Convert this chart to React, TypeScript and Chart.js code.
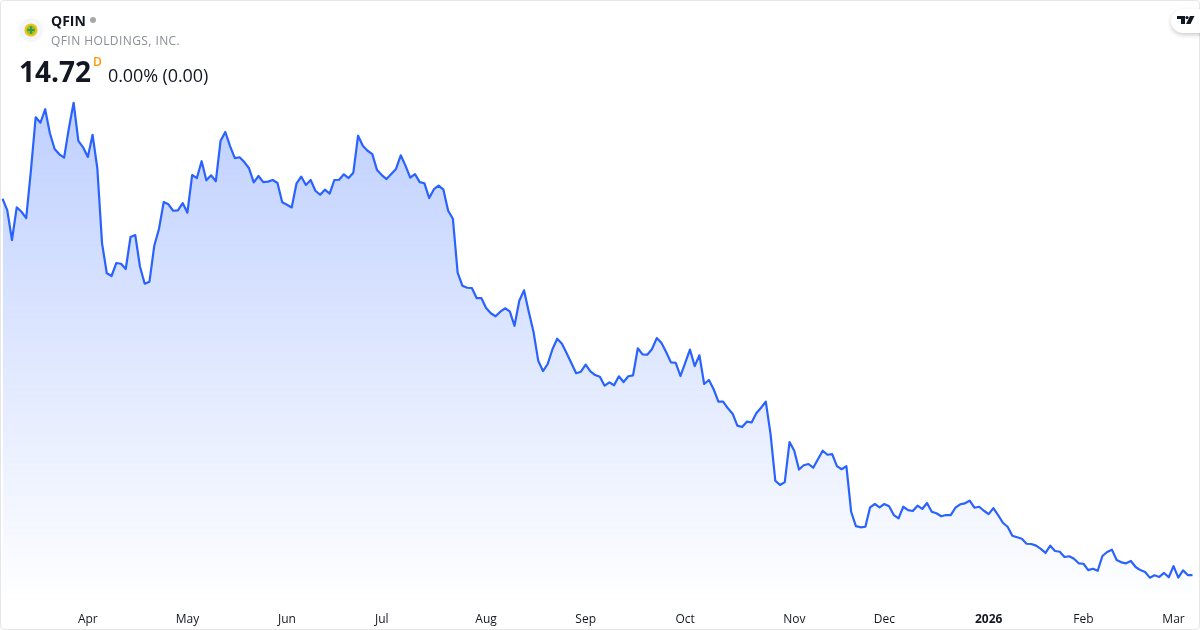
import React, { useEffect, useRef } from "react";
import { Chart, registerables } from "chart.js";

Chart.register(...registerables);

const closes: number[] = [
  42.0, 41.18, 39.01, 41.38, 41.06, 40.6, 44.08, 47.91, 47.51, 48.49,
  46.75, 45.61, 45.22, 44.98, 47.11, 48.96, 46.19, 45.73, 45.03, 46.64,
  44.21, 38.77, 36.6, 36.4, 37.34, 37.29, 36.91, 39.23, 39.37, 37.07,
  35.84, 35.99, 38.57, 39.81, 41.76, 41.6, 41.13, 41.16, 41.69, 40.99,
  43.72, 43.5, 44.72, 43.34, 43.7, 43.27, 46.21, 46.84, 45.82, 44.95,
  45.01, 44.66, 44.21, 43.19, 43.65, 43.21, 43.24, 43.36, 43.14, 41.74,
  41.57, 41.37, 43.09, 43.61, 43.0, 43.36, 42.58, 42.29, 42.66, 42.37,
  43.36, 43.38, 43.77, 43.5, 43.89, 46.57, 45.85, 45.48, 45.24, 44.08,
  43.72, 43.43, 43.79, 44.16, 45.15, 44.4, 43.53, 43.79, 43.21, 43.12,
  42.05, 42.69, 42.95, 42.66, 41.13, 40.55, 36.64, 35.7, 35.55, 35.53,
  34.8, 34.8, 34.08, 33.7, 33.48, 33.81, 34.06, 33.83, 32.79, 34.6,
  35.36, 33.81, 32.36, 30.26, 29.51, 30.02, 31.09, 31.85, 31.49, 30.8,
  30.07, 29.35, 29.46, 29.97, 29.49, 29.22, 29.1, 28.45, 28.69, 28.48,
  29.13, 28.71, 29.13, 29.2, 31.16, 30.72, 30.69, 31.11, 31.9, 31.54,
  30.87, 30.14, 30.11, 29.15, 30.11, 31.06, 29.87, 30.65, 28.57, 28.86,
  28.19, 27.29, 27.29, 26.81, 26.42, 25.55, 25.45, 25.84, 25.78, 26.45,
  26.85, 27.29, 24.94, 21.56, 21.25, 21.46, 24.36, 23.73, 22.37, 22.68,
  22.77, 22.5, 23.11, 23.73, 23.44, 23.49, 22.62, 22.39, 22.62, 19.31,
  18.27, 18.18, 18.22, 19.63, 19.87, 19.63, 19.87, 19.7, 19.07, 18.83,
  19.67, 19.43, 19.36, 19.75, 19.51, 19.94, 19.31, 19.2, 18.98, 19.07,
  19.07, 19.6, 19.85, 19.92, 20.11, 19.6, 19.67, 19.38, 19.14, 19.57,
  19.07, 18.51, 18.22, 17.57, 17.46, 17.35, 16.99, 16.97, 16.85, 16.61,
  16.32, 16.85, 16.46, 16.41, 16.03, 16.08, 15.9, 15.57, 15.54, 15.08,
  15.18, 15.03, 16.1, 16.39, 16.56, 15.81, 15.64, 15.57, 15.74, 15.3,
  15.08, 14.94, 14.53, 14.7, 14.58, 14.87, 14.56, 15.37, 14.53, 15.06,
  14.72, 14.72,
];

const tickLabels = ["Apr", "May", "Jun", "Jul", "Aug", "Sep", "Oct", "Nov", "Dec", "2026", "Feb", "Mar"];
const tickSessions = [18, 39, 60, 80, 102, 123, 144, 167, 186, 208, 228, 247];
const boldLabels = ["2026"];

const categories = closes.map((_, i) => String(i));

const FONT = '"Open Sans", sans-serif';

export default function App() {
  const ref = useRef<HTMLCanvasElement | null>(null);

  useEffect(() => {
    document.body.style.margin = "0";
    const canvas = ref.current!;
    const ctx = canvas.getContext("2d")!;
    const grad = ctx.createLinearGradient(0, 100, 0, 604);
    grad.addColorStop(0, "rgba(41,98,255,0.3)");
    grad.addColorStop(1, "rgba(41,98,255,0)");

    const chart = new Chart(canvas, {
      type: "line",
      data: {
        labels: categories,
        datasets: [
          {
            data: closes,
            borderColor: "#2962FF",
            borderWidth: 2.2,
            borderJoinStyle: "round",
            backgroundColor: grad,
            fill: "start",
            pointRadius: 0,
            tension: 0,
          },
        ],
      },
      options: {
        responsive: false,
        animation: false,
        layout: { padding: { left: 2.5, right: 7.5, top: 0, bottom: 0 } },
        plugins: { legend: { display: false }, tooltip: { enabled: false } },
        scales: {
          x: {
            type: "category",
            offset: false,
            grid: { display: false },
            border: { display: false },
            afterFit: (s: any) => {
              s.height = 26;
              s.paddingLeft = 0;
              s.paddingRight = 0;
            },
            ticks: {
              autoSkip: false,
              maxRotation: 0,
              minRotation: 0,
              padding: 0,
              color: "#131722",
              font: (c: any) => ({
                family: FONT,
                size: 12,
                weight: boldLabels.includes(c.tick?.label) ? "bold" : "normal",
              }),
              callback: (_v: any, i: number) => {
                const k = tickSessions.indexOf(i);
                return k >= 0 ? tickLabels[k] : "";
              },
            },
          },
          y: { display: false, min: 12.62, max: 56.41 },
        },
      },
    } as any);
    return () => chart.destroy();
  }, []);

  return (
    <div style={{ position: "fixed", left: 0, top: 0, width: 1200, height: 630, background: "#fff", overflow: "hidden", fontFamily: FONT }}>
      <canvas ref={ref} width={1200} height={630} style={{ position: "absolute", left: 0, top: 0, display: "block" }} />
      <div style={{ position: "absolute", inset: 0, border: "1px solid #e6e6e6", borderRadius: 4, boxSizing: "border-box", pointerEvents: "none" }} />
      <svg width={26} height={26} style={{ position: "absolute", left: 18, top: 17 }} viewBox="0 0 26 26">
        <circle cx="13" cy="13" r="12" fill="#f4f6fb" />
        <circle cx="13" cy="13" r="6.6" fill="#f3c316" />
        <path d="M13 8.5a4.5 4.5 0 1 0 0 9 4.5 4.5 0 0 0 0-9z" fill="#8fbf3a" />
        <path d="M13 9.3v7.4M9.3 13h7.4" stroke="#3f9a3a" strokeWidth="2" />
      </svg>
      <div style={{ position: "absolute", left: 51, top: 11, fontSize: 14, fontWeight: 700, color: "#131722", lineHeight: "20px" }}>QFIN</div>
      <div style={{ position: "absolute", left: 90, top: 17, width: 6, height: 6, borderRadius: 3, background: "#a8a8a8" }} />
      <div style={{ position: "absolute", left: 51, top: 32, fontSize: 12, color: "#8a8e97", lineHeight: "18px", letterSpacing: 0.42 }}>QFIN HOLDINGS, INC.</div>
      <div style={{ position: "absolute", left: 19, top: 52, fontSize: 28, fontWeight: 700, color: "#131722", lineHeight: "38px" }}>14.72</div>
      <div style={{ position: "absolute", left: 93, top: 54, fontSize: 12, fontWeight: 600, color: "#ff9800", lineHeight: "16px" }}>D</div>
      <div style={{ position: "absolute", left: 108, top: 62, fontSize: 18, color: "#131722", lineHeight: "26px", letterSpacing: -0.1 }}>0.00% (0.00)</div>
      <div style={{ position: "absolute", left: 1171, top: 9, width: 40, height: 24, borderRadius: 12, background: "#fff", boxShadow: "0 2px 4px rgba(0,0,0,0.2)" }} />
      <svg width={18} height={10} style={{ position: "absolute", left: 1177, top: 16 }} viewBox="0 0 18 10">
        <path d="M0 0h8v8H4V3H0z" fill="#131722" />
        <circle cx="10" cy="1.6" r="1.6" fill="#131722" />
        <path d="M13 0h4.5l-4 8H9z" fill="#131722" />
      </svg>
    </div>
  );
}
